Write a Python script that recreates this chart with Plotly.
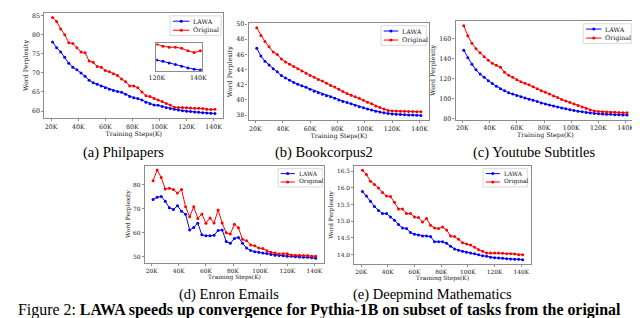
import plotly.graph_objects as go

W, H = 640, 318

# ---------------- data ----------------
STEPS_K = [21, 24, 27, 30, 33, 36, 39, 42, 45, 48, 51, 54, 57, 60, 63, 66, 69, 72, 75, 78, 81,
           84, 87, 90, 93, 96, 99, 102, 105, 108, 111, 114, 117, 120, 123, 126, 129, 132, 135, 138, 141]
X_TICKS = [20, 40, 60, 80, 100, 120, 140]
X_TICK_TEXT = ["20K", "40K", "60K", "80K", "100K", "120K", "140K"]

philpapers_lawa = [78.1, 76.6, 75.5, 74.1, 72.5, 71.5, 70.8, 70.0, 69.1, 68.1, 67.4, 67.0, 66.6, 66.1, 65.7,
                   65.4, 65.1, 64.9, 64.4, 63.8, 63.5, 63.3, 62.9, 62.3, 61.9, 61.6, 61.5, 61.2, 60.9, 60.7,
                   60.5, 60.3, 60.1, 59.95, 59.88, 59.78, 59.68, 59.58, 59.48, 59.4, 59.35]
philpapers_orig = [84.5, 83.5, 81.5, 80.0, 77.9, 77.7, 76.6, 75.5, 75.3, 73.1, 72.8, 71.7, 71.5, 70.6, 70.3,
                   69.8, 69.3, 68.4, 67.7, 66.6, 66.6, 66.1, 65.0, 64.0, 63.8, 63.3, 62.9, 62.5, 62.0, 61.6,
                   61.0, 60.95, 60.95, 60.9, 60.78, 60.72, 60.72, 60.65, 60.5, 60.4, 60.5]
book_lawa = [46.8, 45.8, 45.1, 44.6, 44.1, 43.7, 43.2, 42.9, 42.6, 42.3, 42.05, 41.85, 41.65, 41.4, 41.15,
             40.95, 40.75, 40.55, 40.4, 40.2, 40.0, 39.8, 39.65, 39.5, 39.3, 39.1, 38.95, 38.8, 38.65, 38.5,
             38.4, 38.3, 38.2, 38.15, 38.1, 38.07, 38.05, 38.02, 38.0, 37.97, 37.95]
book_orig = [49.5, 48.5, 47.7, 47.0, 46.3, 46.0, 45.4, 45.0, 44.7, 44.4, 44.1, 43.8, 43.5, 43.2, 43.0,
             42.7, 42.5, 42.2, 41.9, 41.7, 41.4, 41.1, 40.85, 40.6, 40.4, 40.2, 39.95, 39.7, 39.5, 39.2,
             39.0, 38.8, 38.6, 38.55, 38.52, 38.5, 38.5, 38.48, 38.47, 38.45, 38.44]
youtube_lawa = [148.6, 141, 134.5, 129, 124.7, 121.5, 118.2, 115.3, 112.7, 110, 108, 106.1, 104.8, 103.5, 102.2,
                100.9, 99.6, 98.6, 97.3, 96, 95, 94, 93, 92, 91, 90.1, 89.1, 88.5, 87.8, 87.2,
                86.5, 85.9, 85.5, 85.2, 84.9, 84.7, 84.6, 84.3, 84.2, 84.0, 83.9]
youtube_orig = [173, 163, 155.5, 150, 146, 142, 138.5, 135.5, 133.5, 131.5, 126.5, 123.5, 121.5, 119, 117,
                115.5, 114, 112, 110, 108, 106.5, 105, 103, 101.5, 99.5, 98, 96.5, 95, 93.5, 92,
                90.5, 89, 88, 87.5, 87.2, 87, 86.8, 86.6, 86.5, 86.3, 86.1]
enron_lawa = [73.8, 74.8, 75.1, 73.1, 70.4, 69.7, 71.2, 69, 67.7, 61.2, 62.2, 64, 59.2, 58.8, 58.8,
              59, 61, 61.2, 56.4, 55.7, 57.7, 58.1, 55.7, 53.7, 52.7, 52.2, 51.9, 51.6, 51.4, 51,
              50.7, 50.6, 50.5, 50.3, 50.3, 50.1, 50, 49.9, 49.9, 49.7, 49.5]
enron_orig = [81.6, 86.1, 83, 78.2, 78.5, 78, 76.5, 78, 70.8, 66.7, 70.8, 66, 67.8, 64, 66.2,
              64.1, 69.5, 64.1, 60, 59.5, 63.6, 62.1, 57.3, 56.7, 55, 54.6, 53.7, 53.5, 52.6, 51.9,
              51.6, 51.2, 51.3, 51.3, 50.8, 50.7, 50.7, 50.6, 50.6, 50.3, 50.3]
deepmind_lawa = [15.89, 15.76, 15.6, 15.44, 15.32, 15.23, 15.23, 15.13, 15.03, 14.9, 14.8, 14.78, 14.66, 14.61, 14.59,
                 14.56, 14.56, 14.54, 14.39, 14.39, 14.39, 14.34, 14.25, 14.17, 14.13, 14.1, 14.07, 14.05, 14.03, 14.0,
                 13.97, 13.95, 13.92, 13.91, 13.9, 13.89, 13.88, 13.87, 13.86, 13.86, 13.85]
deepmind_orig = [16.53, 16.4, 16.2, 16.1, 16.0, 15.86, 15.76, 15.74, 15.57, 15.37, 15.37, 15.23, 15.23, 15.13, 15.11,
                 14.98, 15.08, 14.88, 14.8, 14.78, 14.83, 14.74, 14.56, 14.54, 14.46, 14.36, 14.32, 14.29, 14.22, 14.15,
                 14.1, 14.05, 14.05, 14.05, 14.05, 14.04, 14.03, 14.03, 14.02, 14.0, 14.0]

philpapers_yticks = [60, 65, 70, 75, 80, 85]
book_yticks = [38, 40, 42, 44, 46, 48, 50]
youtube_yticks = [80, 100, 120, 140, 160]
enron_yticks = [50, 60, 70, 80]
deepmind_yticks = [14.0, 14.5, 15.0, 15.5, 16.0, 16.5]

SERIES_NAMES = ["LAWA", "Original"]
CAPTIONS = ["(a) Philpapers", "(b) Bookcorpus2", "(c) Youtube Subtitles",
            "(d) Enron Emails", "(e) Deepmind Mathematics"]
FIG_CAPTION_PREFIX = "Figure 2: "
FIG_CAPTION_BOLD = "LAWA speeds up convergence for Pythia-1B on subset of tasks from the original"
X_TITLE = "Training Steps(K)"
Y_TITLE = "Word Perplexity"

# ---------------- style / layout ----------------
BLUE = "#0000ff"
RED = "#ff0000"
SPINE = "#8c8c8c"
TICKFONT = "DejaVu Serif"
CAPFONT = "Liberation Serif"

panels = [
    dict(lawa=philpapers_lawa, orig=philpapers_orig, yticks=philpapers_yticks, yfmt="",
         box=(29, 1.8, 211, 109.4), legend=(157, 5, 209, 25), fs=6.3, cap=(110, 144)),
    dict(lawa=book_lawa, orig=book_orig, yticks=book_yticks, yfmt="",
         box=(237, 12.7, 421, 110.9), legend=(372, 15, 418, 35), fs=6.3, cap=(314, 144)),
    dict(lawa=youtube_lawa, orig=youtube_orig, yticks=youtube_yticks, yfmt="",
         box=(448, 10.4, 631, 110.6), legend=(578, 13, 627, 33), fs=6.3, cap=(528, 144)),
    dict(lawa=enron_lawa, orig=enron_orig, yticks=enron_yticks, yfmt="",
         box=(131.4, 157.5, 313.7, 256.4), legend=(267, 160.7, 312, 179.3), fs=5.9, cap=(217, 289)),
    dict(lawa=deepmind_lawa, orig=deepmind_orig, yticks=deepmind_yticks, yfmt=".1f",
         box=(344.9, 157.7, 524.5, 258), legend=(476, 160.7, 521, 179.3), fs=5.9, cap=(424, 289)),
]

fig = go.Figure()
shapes = []
annotations = []


def auto_range(vals, margin=0.05):
    lo, hi = min(vals), max(vals)
    pad = (hi - lo) * margin
    return [lo - pad, hi + pad]


x_range = auto_range(STEPS_K)

for i, p in enumerate(panels, start=1):
    sfx = "" if i == 1 else str(i)
    xa, ya = "x" + sfx, "y" + sfx
    for name, vals, color in ((SERIES_NAMES[0], p["lawa"], BLUE), (SERIES_NAMES[1], p["orig"], RED)):
        fig.add_trace(go.Scatter(x=STEPS_K, y=vals, xaxis=xa, yaxis=ya, name=name,
                                 mode="lines+markers", showlegend=False,
                                 line=dict(color=color, width=1),
                                 marker=dict(color=color, size=3)))
    x0, y0, x1, y1 = p["box"]
    fs = p["fs"]
    common = dict(showline=True, mirror=True, linecolor=SPINE, linewidth=1.3,
                  showgrid=False, zeroline=False, ticks="outside", ticklen=2,
                  tickcolor=SPINE, tickfont=dict(family=TICKFONT, size=fs, color="#111"))
    fig.layout["xaxis" + sfx] = dict(
        common, domain=[x0 / W, x1 / W], anchor=ya, range=x_range,
        tickvals=X_TICKS, ticktext=X_TICK_TEXT,
        title=dict(text=X_TITLE, font=dict(family=TICKFONT, size=fs, color="#111"), standoff=1))
    fig.layout["yaxis" + sfx] = dict(
        common, domain=[1 - y1 / H, 1 - y0 / H], anchor=xa,
        range=auto_range(p["lawa"] + p["orig"]), tickvals=p["yticks"], tickformat=p["yfmt"],
        title=dict(text=Y_TITLE, font=dict(family=TICKFONT, size=fs, color="#111"), standoff=2))

    # legend box (drawn)
    lx0, ly0, lx1, ly1 = p["legend"]
    lw, lh = lx1 - lx0, ly1 - ly0
    shapes.append(dict(type="rect", xref="paper", yref="paper",
                       x0=lx0 / W, x1=lx1 / W, y0=1 - ly1 / H, y1=1 - ly0 / H,
                       line=dict(color="#cfcfcf", width=0.8), fillcolor="rgba(255,255,255,0.85)"))
    for k, (name, color) in enumerate(zip(SERIES_NAMES, (BLUE, RED))):
        ey = ly0 + lh * (0.27 if k == 0 else 0.73)
        sx0, sx1 = lx0 + 0.06 * lw, lx0 + 0.38 * lw
        shapes.append(dict(type="line", xref="paper", yref="paper",
                           x0=sx0 / W, x1=sx1 / W, y0=1 - ey / H, y1=1 - ey / H,
                           line=dict(color=color, width=1)))
        shapes.append(dict(type="circle", xref="paper", yref="paper",
                           xsizemode="pixel", ysizemode="pixel",
                           xanchor=(sx0 + sx1) / 2 / W, yanchor=1 - ey / H,
                           x0=-1.5, x1=1.5, y0=-1.5, y1=1.5,
                           line=dict(width=0), fillcolor=color))
        annotations.append(dict(xref="paper", yref="paper", x=(lx0 + 0.42 * lw) / W, y=1 - ey / H,
                                xanchor="left", yanchor="middle", showarrow=False, text=name,
                                font=dict(family=TICKFONT, size=fs, color="#111")))
    annotations.append(dict(xref="paper", yref="paper", x=p["cap"][0] / W, y=1 - p["cap"][1] / H,
                            xanchor="center", yanchor="middle", showarrow=False, text=CAPTIONS[i - 1],
                            font=dict(family=CAPFONT, size=14.5, color="black")))

# inset of panel (a): zoom on the tail of the curves
INSET_FROM_K = 120
tail_idx = [j for j, s in enumerate(STEPS_K) if s >= INSET_FROM_K]
for vals, color in ((philpapers_lawa, BLUE), (philpapers_orig, RED)):
    fig.add_trace(go.Scatter(x=[STEPS_K[j] for j in tail_idx], y=[vals[j] for j in tail_idx],
                             xaxis="x6", yaxis="y6", mode="lines+markers", showlegend=False,
                             line=dict(color=color, width=1), marker=dict(color=color, size=3)))
tail_vals = [philpapers_lawa[j] for j in tail_idx] + [philpapers_orig[j] for j in tail_idx]
fig.layout["xaxis6"] = dict(domain=[143 / W, 190 / W], anchor="y6", range=[119.8, 142],
                            tickvals=[120, 140], ticktext=["120K", "140K"],
                            showline=True, mirror=True, linecolor=SPINE, linewidth=1.3,
                            showgrid=False, zeroline=False, ticks="",
                            tickfont=dict(family=TICKFONT, size=6.3, color="#111"))
fig.layout["yaxis6"] = dict(domain=[1 - 61 / H, 1 - 33 / H], anchor="x6",
                            range=auto_range(tail_vals, 0.03), showticklabels=False,
                            showline=True, mirror=True, linecolor=SPINE, linewidth=1.3,
                            showgrid=False, zeroline=False, ticks="")

annotations.append(dict(xref="paper", yref="paper", x=0, y=2.5 / H, xanchor="left", yanchor="bottom",
                        showarrow=False, text=FIG_CAPTION_PREFIX + "<b>" + FIG_CAPTION_BOLD + "</b>",
                        font=dict(family=CAPFONT, size=15.9, color="black")))

fig.update_layout(width=W, height=H, margin=dict(l=0, r=0, t=0, b=0),
                  paper_bgcolor="white", plot_bgcolor="white",
                  shapes=shapes, annotations=annotations, showlegend=False)

fig.write_html("out.html")
